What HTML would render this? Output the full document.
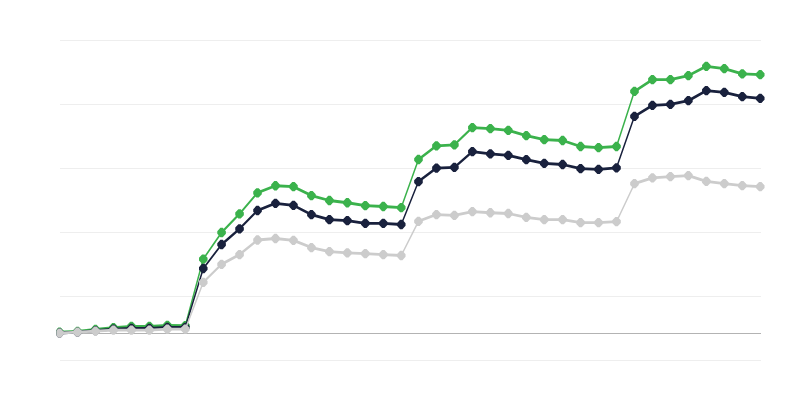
<!DOCTYPE html>
<html><head><meta charset="utf-8"><title>Chart</title>
<style>html,body{margin:0;padding:0;background:#fff;font-family:"Liberation Sans",sans-serif}svg{display:block}</style>
</head><body>
<svg width="800" height="400" viewBox="0 0 800 400">
<rect width="800" height="400" fill="#ffffff"/>
<rect x="60" y="40" width="701" height="1" fill="#eeeeee"/><rect x="60" y="104" width="701" height="1" fill="#eeeeee"/><rect x="60" y="168" width="701" height="1" fill="#eeeeee"/><rect x="60" y="232" width="701" height="1" fill="#eeeeee"/><rect x="60" y="296" width="701" height="1" fill="#eeeeee"/><rect x="60" y="360" width="701" height="1" fill="#eeeeee"/>
<rect x="60" y="333" width="701" height="1" fill="#b3b3b3"/>
<clipPath id="c"><rect x="56.4" y="30" width="715" height="340"/></clipPath>
<g clip-path="url(#c)">
<g stroke="#3bb24c" stroke-linecap="round" fill="none">
<line x1="59.53" y1="332.10" x2="77.50" y2="331.40" stroke-width="2.80"/>
<line x1="77.50" y1="331.40" x2="95.46" y2="329.50" stroke-width="2.80"/>
<line x1="95.46" y1="329.50" x2="113.43" y2="327.60" stroke-width="2.80"/>
<line x1="113.43" y1="327.60" x2="131.40" y2="326.40" stroke-width="2.80"/>
<line x1="131.40" y1="326.40" x2="149.37" y2="326.40" stroke-width="2.80"/>
<line x1="149.37" y1="326.40" x2="167.33" y2="325.40" stroke-width="2.80"/>
<line x1="167.33" y1="325.40" x2="185.30" y2="325.60" stroke-width="2.80"/>
<line x1="185.30" y1="325.60" x2="203.27" y2="259.05" stroke-width="1.50"/>
<line x1="203.27" y1="259.05" x2="221.58" y2="232.50" stroke-width="1.68"/>
<line x1="221.58" y1="232.50" x2="239.55" y2="213.80" stroke-width="2.12"/>
<line x1="239.55" y1="213.80" x2="257.52" y2="192.80" stroke-width="1.96"/>
<line x1="257.52" y1="192.80" x2="275.48" y2="185.75" stroke-width="2.79"/>
<line x1="275.48" y1="185.75" x2="293.45" y2="186.70" stroke-width="2.80"/>
<line x1="293.45" y1="186.70" x2="311.42" y2="195.55" stroke-width="2.76"/>
<line x1="311.42" y1="195.55" x2="329.38" y2="200.50" stroke-width="2.80"/>
<line x1="329.38" y1="200.50" x2="347.35" y2="202.75" stroke-width="2.80"/>
<line x1="347.35" y1="202.75" x2="365.32" y2="205.60" stroke-width="2.80"/>
<line x1="365.32" y1="205.60" x2="383.29" y2="206.50" stroke-width="2.80"/>
<line x1="383.29" y1="206.50" x2="401.25" y2="207.60" stroke-width="2.80"/>
<line x1="401.25" y1="207.60" x2="418.47" y2="159.50" stroke-width="1.50"/>
<line x1="418.47" y1="159.50" x2="436.44" y2="145.85" stroke-width="2.51"/>
<line x1="436.44" y1="145.85" x2="454.40" y2="144.80" stroke-width="2.80"/>
<line x1="454.40" y1="144.80" x2="472.37" y2="127.55" stroke-width="2.23"/>
<line x1="472.37" y1="127.55" x2="490.34" y2="128.60" stroke-width="2.80"/>
<line x1="490.34" y1="128.60" x2="508.30" y2="130.40" stroke-width="2.80"/>
<line x1="508.30" y1="130.40" x2="526.27" y2="135.55" stroke-width="2.80"/>
<line x1="526.27" y1="135.55" x2="544.24" y2="139.60" stroke-width="2.80"/>
<line x1="544.24" y1="139.60" x2="562.61" y2="140.50" stroke-width="2.80"/>
<line x1="562.61" y1="140.50" x2="580.57" y2="146.50" stroke-width="2.80"/>
<line x1="580.57" y1="146.50" x2="598.54" y2="147.55" stroke-width="2.80"/>
<line x1="598.54" y1="147.55" x2="616.51" y2="146.50" stroke-width="2.80"/>
<line x1="616.51" y1="146.50" x2="634.47" y2="91.30" stroke-width="1.50"/>
<line x1="634.47" y1="91.30" x2="652.44" y2="79.70" stroke-width="2.64"/>
<line x1="652.44" y1="79.70" x2="670.41" y2="79.70" stroke-width="2.80"/>
<line x1="670.41" y1="79.70" x2="688.37" y2="75.60" stroke-width="2.80"/>
<line x1="688.37" y1="75.60" x2="706.34" y2="66.30" stroke-width="2.75"/>
<line x1="706.34" y1="66.30" x2="724.31" y2="68.70" stroke-width="2.80"/>
<line x1="724.31" y1="68.70" x2="742.28" y2="73.90" stroke-width="2.80"/>
<line x1="742.28" y1="73.90" x2="760.24" y2="74.70" stroke-width="2.80"/>
</g>
<path d="M58.33 327.45L60.73 327.45L63.83 330.75L63.83 333.45L60.73 336.75L58.33 336.75L55.23 333.45L55.23 330.75ZM76.30 326.75L78.70 326.75L81.80 330.05L81.80 332.75L78.70 336.05L76.30 336.05L73.20 332.75L73.20 330.05ZM94.26 324.85L96.66 324.85L99.76 328.15L99.76 330.85L96.66 334.15L94.26 334.15L91.16 330.85L91.16 328.15ZM112.23 322.95L114.63 322.95L117.73 326.25L117.73 328.95L114.63 332.25L112.23 332.25L109.13 328.95L109.13 326.25ZM130.20 321.75L132.60 321.75L135.70 325.05L135.70 327.75L132.60 331.05L130.20 331.05L127.10 327.75L127.10 325.05ZM148.17 321.75L150.56 321.75L153.67 325.05L153.67 327.75L150.56 331.05L148.17 331.05L145.06 327.75L145.06 325.05ZM166.13 320.75L168.53 320.75L171.63 324.05L171.63 326.75L168.53 330.05L166.13 330.05L163.03 326.75L163.03 324.05ZM184.10 320.95L186.50 320.95L189.60 324.25L189.60 326.95L186.50 330.25L184.10 330.25L181.00 326.95L181.00 324.25ZM202.07 254.40L204.47 254.40L207.57 257.70L207.57 260.40L204.47 263.70L202.07 263.70L198.97 260.40L198.97 257.70ZM220.38 227.85L222.78 227.85L225.88 231.15L225.88 233.85L222.78 237.15L220.38 237.15L217.28 233.85L217.28 231.15ZM238.35 209.15L240.75 209.15L243.85 212.45L243.85 215.15L240.75 218.45L238.35 218.45L235.25 215.15L235.25 212.45ZM256.32 188.15L258.72 188.15L261.82 191.45L261.82 194.15L258.72 197.45L256.32 197.45L253.22 194.15L253.22 191.45ZM274.28 181.10L276.68 181.10L279.78 184.40L279.78 187.10L276.68 190.40L274.28 190.40L271.18 187.10L271.18 184.40ZM292.25 182.05L294.65 182.05L297.75 185.35L297.75 188.05L294.65 191.35L292.25 191.35L289.15 188.05L289.15 185.35ZM310.22 190.90L312.62 190.90L315.72 194.20L315.72 196.90L312.62 200.20L310.22 200.20L307.12 196.90L307.12 194.20ZM328.19 195.85L330.58 195.85L333.69 199.15L333.69 201.85L330.58 205.15L328.19 205.15L325.08 201.85L325.08 199.15ZM346.15 198.10L348.55 198.10L351.65 201.40L351.65 204.10L348.55 207.40L346.15 207.40L343.05 204.10L343.05 201.40ZM364.12 200.95L366.52 200.95L369.62 204.25L369.62 206.95L366.52 210.25L364.12 210.25L361.02 206.95L361.02 204.25ZM382.09 201.85L384.49 201.85L387.59 205.15L387.59 207.85L384.49 211.15L382.09 211.15L378.99 207.85L378.99 205.15ZM400.05 202.95L402.45 202.95L405.55 206.25L405.55 208.95L402.45 212.25L400.05 212.25L396.95 208.95L396.95 206.25ZM417.27 154.85L419.67 154.85L422.77 158.15L422.77 160.85L419.67 164.15L417.27 164.15L414.17 160.85L414.17 158.15ZM435.24 141.20L437.64 141.20L440.74 144.50L440.74 147.20L437.64 150.50L435.24 150.50L432.14 147.20L432.14 144.50ZM453.20 140.15L455.60 140.15L458.70 143.45L458.70 146.15L455.60 149.45L453.20 149.45L450.10 146.15L450.10 143.45ZM471.17 122.90L473.57 122.90L476.67 126.20L476.67 128.90L473.57 132.20L471.17 132.20L468.07 128.90L468.07 126.20ZM489.14 123.95L491.54 123.95L494.64 127.25L494.64 129.95L491.54 133.25L489.14 133.25L486.04 129.95L486.04 127.25ZM507.10 125.75L509.50 125.75L512.60 129.05L512.60 131.75L509.50 135.05L507.10 135.05L504.00 131.75L504.00 129.05ZM525.07 130.90L527.47 130.90L530.57 134.20L530.57 136.90L527.47 140.20L525.07 140.20L521.97 136.90L521.97 134.20ZM543.04 134.95L545.44 134.95L548.54 138.25L548.54 140.95L545.44 144.25L543.04 144.25L539.94 140.95L539.94 138.25ZM561.41 135.85L563.81 135.85L566.91 139.15L566.91 141.85L563.81 145.15L561.41 145.15L558.31 141.85L558.31 139.15ZM579.37 141.85L581.77 141.85L584.87 145.15L584.87 147.85L581.77 151.15L579.37 151.15L576.27 147.85L576.27 145.15ZM597.34 142.90L599.74 142.90L602.84 146.20L602.84 148.90L599.74 152.20L597.34 152.20L594.24 148.90L594.24 146.20ZM615.31 141.85L617.71 141.85L620.81 145.15L620.81 147.85L617.71 151.15L615.31 151.15L612.21 147.85L612.21 145.15ZM633.27 86.65L635.67 86.65L638.77 89.95L638.77 92.65L635.67 95.95L633.27 95.95L630.17 92.65L630.17 89.95ZM651.24 75.05L653.64 75.05L656.74 78.35L656.74 81.05L653.64 84.35L651.24 84.35L648.14 81.05L648.14 78.35ZM669.21 75.05L671.61 75.05L674.71 78.35L674.71 81.05L671.61 84.35L669.21 84.35L666.11 81.05L666.11 78.35ZM687.17 70.95L689.57 70.95L692.67 74.25L692.67 76.95L689.57 80.25L687.17 80.25L684.07 76.95L684.07 74.25ZM705.14 61.65L707.54 61.65L710.64 64.95L710.64 67.65L707.54 70.95L705.14 70.95L702.04 67.65L702.04 64.95ZM723.11 64.05L725.51 64.05L728.61 67.35L728.61 70.05L725.51 73.35L723.11 73.35L720.01 70.05L720.01 67.35ZM741.08 69.25L743.48 69.25L746.58 72.55L746.58 75.25L743.48 78.55L741.08 78.55L737.98 75.25L737.98 72.55ZM759.04 70.05L761.44 70.05L764.54 73.35L764.54 76.05L761.44 79.35L759.04 79.35L755.94 76.05L755.94 73.35Z" fill="#3bb24c"/>
<g stroke="#19213d" stroke-linecap="round" fill="none">
<line x1="59.53" y1="333.00" x2="77.50" y2="332.20" stroke-width="2.80"/>
<line x1="77.50" y1="332.20" x2="95.46" y2="330.60" stroke-width="2.80"/>
<line x1="95.46" y1="330.60" x2="113.43" y2="329.20" stroke-width="2.80"/>
<line x1="113.43" y1="329.20" x2="131.40" y2="328.30" stroke-width="2.80"/>
<line x1="131.40" y1="328.30" x2="149.37" y2="328.30" stroke-width="2.80"/>
<line x1="149.37" y1="328.30" x2="167.33" y2="327.30" stroke-width="2.80"/>
<line x1="167.33" y1="327.30" x2="185.30" y2="327.30" stroke-width="2.80"/>
<line x1="185.30" y1="327.30" x2="203.27" y2="268.50" stroke-width="1.50"/>
<line x1="203.27" y1="268.50" x2="221.58" y2="244.50" stroke-width="1.80"/>
<line x1="221.58" y1="244.50" x2="239.55" y2="228.80" stroke-width="2.35"/>
<line x1="239.55" y1="228.80" x2="257.52" y2="210.50" stroke-width="2.15"/>
<line x1="257.52" y1="210.50" x2="275.48" y2="203.30" stroke-width="2.79"/>
<line x1="275.48" y1="203.30" x2="293.45" y2="205.40" stroke-width="2.80"/>
<line x1="293.45" y1="205.40" x2="311.42" y2="214.60" stroke-width="2.75"/>
<line x1="311.42" y1="214.60" x2="329.38" y2="219.60" stroke-width="2.80"/>
<line x1="329.38" y1="219.60" x2="347.35" y2="220.60" stroke-width="2.80"/>
<line x1="347.35" y1="220.60" x2="365.32" y2="223.40" stroke-width="2.80"/>
<line x1="365.32" y1="223.40" x2="383.29" y2="223.40" stroke-width="2.80"/>
<line x1="383.29" y1="223.40" x2="401.25" y2="224.50" stroke-width="2.80"/>
<line x1="401.25" y1="224.50" x2="418.47" y2="181.55" stroke-width="1.50"/>
<line x1="418.47" y1="181.55" x2="436.44" y2="168.05" stroke-width="2.52"/>
<line x1="436.44" y1="168.05" x2="454.40" y2="167.30" stroke-width="2.80"/>
<line x1="454.40" y1="167.30" x2="472.37" y2="151.55" stroke-width="2.35"/>
<line x1="472.37" y1="151.55" x2="490.34" y2="153.80" stroke-width="2.80"/>
<line x1="490.34" y1="153.80" x2="508.30" y2="155.40" stroke-width="2.80"/>
<line x1="508.30" y1="155.40" x2="526.27" y2="159.55" stroke-width="2.80"/>
<line x1="526.27" y1="159.55" x2="544.24" y2="163.30" stroke-width="2.80"/>
<line x1="544.24" y1="163.30" x2="562.61" y2="164.50" stroke-width="2.80"/>
<line x1="562.61" y1="164.50" x2="580.57" y2="168.55" stroke-width="2.80"/>
<line x1="580.57" y1="168.55" x2="598.54" y2="169.30" stroke-width="2.80"/>
<line x1="598.54" y1="169.30" x2="616.51" y2="167.80" stroke-width="2.80"/>
<line x1="616.51" y1="167.80" x2="634.47" y2="116.30" stroke-width="1.50"/>
<line x1="634.47" y1="116.30" x2="652.44" y2="105.30" stroke-width="2.67"/>
<line x1="652.44" y1="105.30" x2="670.41" y2="104.30" stroke-width="2.80"/>
<line x1="670.41" y1="104.30" x2="688.37" y2="100.70" stroke-width="2.80"/>
<line x1="688.37" y1="100.70" x2="706.34" y2="90.60" stroke-width="2.71"/>
<line x1="706.34" y1="90.60" x2="724.31" y2="92.30" stroke-width="2.80"/>
<line x1="724.31" y1="92.30" x2="742.28" y2="96.70" stroke-width="2.80"/>
<line x1="742.28" y1="96.70" x2="760.24" y2="98.30" stroke-width="2.80"/>
</g>
<path d="M58.33 328.35L60.73 328.35L63.83 331.65L63.83 334.35L60.73 337.65L58.33 337.65L55.23 334.35L55.23 331.65ZM76.30 327.55L78.70 327.55L81.80 330.85L81.80 333.55L78.70 336.85L76.30 336.85L73.20 333.55L73.20 330.85ZM94.26 325.95L96.66 325.95L99.76 329.25L99.76 331.95L96.66 335.25L94.26 335.25L91.16 331.95L91.16 329.25ZM112.23 324.55L114.63 324.55L117.73 327.85L117.73 330.55L114.63 333.85L112.23 333.85L109.13 330.55L109.13 327.85ZM130.20 323.65L132.60 323.65L135.70 326.95L135.70 329.65L132.60 332.95L130.20 332.95L127.10 329.65L127.10 326.95ZM148.17 323.65L150.56 323.65L153.67 326.95L153.67 329.65L150.56 332.95L148.17 332.95L145.06 329.65L145.06 326.95ZM166.13 322.65L168.53 322.65L171.63 325.95L171.63 328.65L168.53 331.95L166.13 331.95L163.03 328.65L163.03 325.95ZM184.10 322.65L186.50 322.65L189.60 325.95L189.60 328.65L186.50 331.95L184.10 331.95L181.00 328.65L181.00 325.95ZM202.07 263.85L204.47 263.85L207.57 267.15L207.57 269.85L204.47 273.15L202.07 273.15L198.97 269.85L198.97 267.15ZM220.38 239.85L222.78 239.85L225.88 243.15L225.88 245.85L222.78 249.15L220.38 249.15L217.28 245.85L217.28 243.15ZM238.35 224.15L240.75 224.15L243.85 227.45L243.85 230.15L240.75 233.45L238.35 233.45L235.25 230.15L235.25 227.45ZM256.32 205.85L258.72 205.85L261.82 209.15L261.82 211.85L258.72 215.15L256.32 215.15L253.22 211.85L253.22 209.15ZM274.28 198.65L276.68 198.65L279.78 201.95L279.78 204.65L276.68 207.95L274.28 207.95L271.18 204.65L271.18 201.95ZM292.25 200.75L294.65 200.75L297.75 204.05L297.75 206.75L294.65 210.05L292.25 210.05L289.15 206.75L289.15 204.05ZM310.22 209.95L312.62 209.95L315.72 213.25L315.72 215.95L312.62 219.25L310.22 219.25L307.12 215.95L307.12 213.25ZM328.19 214.95L330.58 214.95L333.69 218.25L333.69 220.95L330.58 224.25L328.19 224.25L325.08 220.95L325.08 218.25ZM346.15 215.95L348.55 215.95L351.65 219.25L351.65 221.95L348.55 225.25L346.15 225.25L343.05 221.95L343.05 219.25ZM364.12 218.75L366.52 218.75L369.62 222.05L369.62 224.75L366.52 228.05L364.12 228.05L361.02 224.75L361.02 222.05ZM382.09 218.75L384.49 218.75L387.59 222.05L387.59 224.75L384.49 228.05L382.09 228.05L378.99 224.75L378.99 222.05ZM400.05 219.85L402.45 219.85L405.55 223.15L405.55 225.85L402.45 229.15L400.05 229.15L396.95 225.85L396.95 223.15ZM417.27 176.90L419.67 176.90L422.77 180.20L422.77 182.90L419.67 186.20L417.27 186.20L414.17 182.90L414.17 180.20ZM435.24 163.40L437.64 163.40L440.74 166.70L440.74 169.40L437.64 172.70L435.24 172.70L432.14 169.40L432.14 166.70ZM453.20 162.65L455.60 162.65L458.70 165.95L458.70 168.65L455.60 171.95L453.20 171.95L450.10 168.65L450.10 165.95ZM471.17 146.90L473.57 146.90L476.67 150.20L476.67 152.90L473.57 156.20L471.17 156.20L468.07 152.90L468.07 150.20ZM489.14 149.15L491.54 149.15L494.64 152.45L494.64 155.15L491.54 158.45L489.14 158.45L486.04 155.15L486.04 152.45ZM507.10 150.75L509.50 150.75L512.60 154.05L512.60 156.75L509.50 160.05L507.10 160.05L504.00 156.75L504.00 154.05ZM525.07 154.90L527.47 154.90L530.57 158.20L530.57 160.90L527.47 164.20L525.07 164.20L521.97 160.90L521.97 158.20ZM543.04 158.65L545.44 158.65L548.54 161.95L548.54 164.65L545.44 167.95L543.04 167.95L539.94 164.65L539.94 161.95ZM561.41 159.85L563.81 159.85L566.91 163.15L566.91 165.85L563.81 169.15L561.41 169.15L558.31 165.85L558.31 163.15ZM579.37 163.90L581.77 163.90L584.87 167.20L584.87 169.90L581.77 173.20L579.37 173.20L576.27 169.90L576.27 167.20ZM597.34 164.65L599.74 164.65L602.84 167.95L602.84 170.65L599.74 173.95L597.34 173.95L594.24 170.65L594.24 167.95ZM615.31 163.15L617.71 163.15L620.81 166.45L620.81 169.15L617.71 172.45L615.31 172.45L612.21 169.15L612.21 166.45ZM633.27 111.65L635.67 111.65L638.77 114.95L638.77 117.65L635.67 120.95L633.27 120.95L630.17 117.65L630.17 114.95ZM651.24 100.65L653.64 100.65L656.74 103.95L656.74 106.65L653.64 109.95L651.24 109.95L648.14 106.65L648.14 103.95ZM669.21 99.65L671.61 99.65L674.71 102.95L674.71 105.65L671.61 108.95L669.21 108.95L666.11 105.65L666.11 102.95ZM687.17 96.05L689.57 96.05L692.67 99.35L692.67 102.05L689.57 105.35L687.17 105.35L684.07 102.05L684.07 99.35ZM705.14 85.95L707.54 85.95L710.64 89.25L710.64 91.95L707.54 95.25L705.14 95.25L702.04 91.95L702.04 89.25ZM723.11 87.65L725.51 87.65L728.61 90.95L728.61 93.65L725.51 96.95L723.11 96.95L720.01 93.65L720.01 90.95ZM741.08 92.05L743.48 92.05L746.58 95.35L746.58 98.05L743.48 101.35L741.08 101.35L737.98 98.05L737.98 95.35ZM759.04 93.65L761.44 93.65L764.54 96.95L764.54 99.65L761.44 102.95L759.04 102.95L755.94 99.65L755.94 96.95Z" fill="#19213d"/>
<g stroke="#cccccc" stroke-linecap="round" fill="none">
<line x1="59.53" y1="333.10" x2="77.50" y2="332.20" stroke-width="2.80"/>
<line x1="77.50" y1="332.20" x2="95.46" y2="331.20" stroke-width="2.80"/>
<line x1="95.46" y1="331.20" x2="113.43" y2="330.10" stroke-width="2.80"/>
<line x1="113.43" y1="330.10" x2="131.40" y2="330.10" stroke-width="2.80"/>
<line x1="131.40" y1="330.10" x2="149.37" y2="330.10" stroke-width="2.80"/>
<line x1="149.37" y1="330.10" x2="167.33" y2="329.20" stroke-width="2.80"/>
<line x1="167.33" y1="329.20" x2="185.30" y2="329.20" stroke-width="2.80"/>
<line x1="185.30" y1="329.20" x2="203.27" y2="282.30" stroke-width="1.50"/>
<line x1="203.27" y1="282.30" x2="221.58" y2="264.30" stroke-width="2.20"/>
<line x1="221.58" y1="264.30" x2="239.55" y2="254.55" stroke-width="2.73"/>
<line x1="239.55" y1="254.55" x2="257.52" y2="240.00" stroke-width="2.44"/>
<line x1="257.52" y1="240.00" x2="275.48" y2="238.50" stroke-width="2.80"/>
<line x1="275.48" y1="238.50" x2="293.45" y2="240.40" stroke-width="2.80"/>
<line x1="293.45" y1="240.40" x2="311.42" y2="247.55" stroke-width="2.79"/>
<line x1="311.42" y1="247.55" x2="329.38" y2="251.60" stroke-width="2.80"/>
<line x1="329.38" y1="251.60" x2="347.35" y2="252.80" stroke-width="2.80"/>
<line x1="347.35" y1="252.80" x2="365.32" y2="253.55" stroke-width="2.80"/>
<line x1="365.32" y1="253.55" x2="383.29" y2="254.60" stroke-width="2.80"/>
<line x1="383.29" y1="254.60" x2="401.25" y2="255.50" stroke-width="2.80"/>
<line x1="401.25" y1="255.50" x2="418.47" y2="221.30" stroke-width="1.50"/>
<line x1="418.47" y1="221.30" x2="436.44" y2="214.55" stroke-width="2.80"/>
<line x1="436.44" y1="214.55" x2="454.40" y2="215.30" stroke-width="2.80"/>
<line x1="454.40" y1="215.30" x2="472.37" y2="211.55" stroke-width="2.80"/>
<line x1="472.37" y1="211.55" x2="490.34" y2="212.75" stroke-width="2.80"/>
<line x1="490.34" y1="212.75" x2="508.30" y2="213.50" stroke-width="2.80"/>
<line x1="508.30" y1="213.50" x2="526.27" y2="217.35" stroke-width="2.80"/>
<line x1="526.27" y1="217.35" x2="544.24" y2="219.60" stroke-width="2.80"/>
<line x1="544.24" y1="219.60" x2="562.61" y2="219.60" stroke-width="2.80"/>
<line x1="562.61" y1="219.60" x2="580.57" y2="222.60" stroke-width="2.80"/>
<line x1="580.57" y1="222.60" x2="598.54" y2="222.60" stroke-width="2.80"/>
<line x1="598.54" y1="222.60" x2="616.51" y2="221.70" stroke-width="2.80"/>
<line x1="616.51" y1="221.70" x2="634.47" y2="183.70" stroke-width="1.50"/>
<line x1="634.47" y1="183.70" x2="652.44" y2="177.90" stroke-width="2.80"/>
<line x1="652.44" y1="177.90" x2="670.41" y2="176.70" stroke-width="2.80"/>
<line x1="670.41" y1="176.70" x2="688.37" y2="175.70" stroke-width="2.80"/>
<line x1="688.37" y1="175.70" x2="706.34" y2="181.30" stroke-width="2.80"/>
<line x1="706.34" y1="181.30" x2="724.31" y2="183.70" stroke-width="2.80"/>
<line x1="724.31" y1="183.70" x2="742.28" y2="185.70" stroke-width="2.80"/>
<line x1="742.28" y1="185.70" x2="760.24" y2="186.70" stroke-width="2.80"/>
</g>
<path d="M58.33 328.45L60.73 328.45L63.83 331.75L63.83 334.45L60.73 337.75L58.33 337.75L55.23 334.45L55.23 331.75ZM76.30 327.55L78.70 327.55L81.80 330.85L81.80 333.55L78.70 336.85L76.30 336.85L73.20 333.55L73.20 330.85ZM94.26 326.55L96.66 326.55L99.76 329.85L99.76 332.55L96.66 335.85L94.26 335.85L91.16 332.55L91.16 329.85ZM112.23 325.45L114.63 325.45L117.73 328.75L117.73 331.45L114.63 334.75L112.23 334.75L109.13 331.45L109.13 328.75ZM130.20 325.45L132.60 325.45L135.70 328.75L135.70 331.45L132.60 334.75L130.20 334.75L127.10 331.45L127.10 328.75ZM148.17 325.45L150.56 325.45L153.67 328.75L153.67 331.45L150.56 334.75L148.17 334.75L145.06 331.45L145.06 328.75ZM166.13 324.55L168.53 324.55L171.63 327.85L171.63 330.55L168.53 333.85L166.13 333.85L163.03 330.55L163.03 327.85ZM184.10 324.55L186.50 324.55L189.60 327.85L189.60 330.55L186.50 333.85L184.10 333.85L181.00 330.55L181.00 327.85ZM202.07 277.65L204.47 277.65L207.57 280.95L207.57 283.65L204.47 286.95L202.07 286.95L198.97 283.65L198.97 280.95ZM220.38 259.65L222.78 259.65L225.88 262.95L225.88 265.65L222.78 268.95L220.38 268.95L217.28 265.65L217.28 262.95ZM238.35 249.90L240.75 249.90L243.85 253.20L243.85 255.90L240.75 259.20L238.35 259.20L235.25 255.90L235.25 253.20ZM256.32 235.35L258.72 235.35L261.82 238.65L261.82 241.35L258.72 244.65L256.32 244.65L253.22 241.35L253.22 238.65ZM274.28 233.85L276.68 233.85L279.78 237.15L279.78 239.85L276.68 243.15L274.28 243.15L271.18 239.85L271.18 237.15ZM292.25 235.75L294.65 235.75L297.75 239.05L297.75 241.75L294.65 245.05L292.25 245.05L289.15 241.75L289.15 239.05ZM310.22 242.90L312.62 242.90L315.72 246.20L315.72 248.90L312.62 252.20L310.22 252.20L307.12 248.90L307.12 246.20ZM328.19 246.95L330.58 246.95L333.69 250.25L333.69 252.95L330.58 256.25L328.19 256.25L325.08 252.95L325.08 250.25ZM346.15 248.15L348.55 248.15L351.65 251.45L351.65 254.15L348.55 257.45L346.15 257.45L343.05 254.15L343.05 251.45ZM364.12 248.90L366.52 248.90L369.62 252.20L369.62 254.90L366.52 258.20L364.12 258.20L361.02 254.90L361.02 252.20ZM382.09 249.95L384.49 249.95L387.59 253.25L387.59 255.95L384.49 259.25L382.09 259.25L378.99 255.95L378.99 253.25ZM400.05 250.85L402.45 250.85L405.55 254.15L405.55 256.85L402.45 260.15L400.05 260.15L396.95 256.85L396.95 254.15ZM417.27 216.65L419.67 216.65L422.77 219.95L422.77 222.65L419.67 225.95L417.27 225.95L414.17 222.65L414.17 219.95ZM435.24 209.90L437.64 209.90L440.74 213.20L440.74 215.90L437.64 219.20L435.24 219.20L432.14 215.90L432.14 213.20ZM453.20 210.65L455.60 210.65L458.70 213.95L458.70 216.65L455.60 219.95L453.20 219.95L450.10 216.65L450.10 213.95ZM471.17 206.90L473.57 206.90L476.67 210.20L476.67 212.90L473.57 216.20L471.17 216.20L468.07 212.90L468.07 210.20ZM489.14 208.10L491.54 208.10L494.64 211.40L494.64 214.10L491.54 217.40L489.14 217.40L486.04 214.10L486.04 211.40ZM507.10 208.85L509.50 208.85L512.60 212.15L512.60 214.85L509.50 218.15L507.10 218.15L504.00 214.85L504.00 212.15ZM525.07 212.70L527.47 212.70L530.57 216.00L530.57 218.70L527.47 222.00L525.07 222.00L521.97 218.70L521.97 216.00ZM543.04 214.95L545.44 214.95L548.54 218.25L548.54 220.95L545.44 224.25L543.04 224.25L539.94 220.95L539.94 218.25ZM561.41 214.95L563.81 214.95L566.91 218.25L566.91 220.95L563.81 224.25L561.41 224.25L558.31 220.95L558.31 218.25ZM579.37 217.95L581.77 217.95L584.87 221.25L584.87 223.95L581.77 227.25L579.37 227.25L576.27 223.95L576.27 221.25ZM597.34 217.95L599.74 217.95L602.84 221.25L602.84 223.95L599.74 227.25L597.34 227.25L594.24 223.95L594.24 221.25ZM615.31 217.05L617.71 217.05L620.81 220.35L620.81 223.05L617.71 226.35L615.31 226.35L612.21 223.05L612.21 220.35ZM633.27 179.05L635.67 179.05L638.77 182.35L638.77 185.05L635.67 188.35L633.27 188.35L630.17 185.05L630.17 182.35ZM651.24 173.25L653.64 173.25L656.74 176.55L656.74 179.25L653.64 182.55L651.24 182.55L648.14 179.25L648.14 176.55ZM669.21 172.05L671.61 172.05L674.71 175.35L674.71 178.05L671.61 181.35L669.21 181.35L666.11 178.05L666.11 175.35ZM687.17 171.05L689.57 171.05L692.67 174.35L692.67 177.05L689.57 180.35L687.17 180.35L684.07 177.05L684.07 174.35ZM705.14 176.65L707.54 176.65L710.64 179.95L710.64 182.65L707.54 185.95L705.14 185.95L702.04 182.65L702.04 179.95ZM723.11 179.05L725.51 179.05L728.61 182.35L728.61 185.05L725.51 188.35L723.11 188.35L720.01 185.05L720.01 182.35ZM741.08 181.05L743.48 181.05L746.58 184.35L746.58 187.05L743.48 190.35L741.08 190.35L737.98 187.05L737.98 184.35ZM759.04 182.05L761.44 182.05L764.54 185.35L764.54 188.05L761.44 191.35L759.04 191.35L755.94 188.05L755.94 185.35Z" fill="#cccccc"/>
</g>
</svg>
</body></html>
